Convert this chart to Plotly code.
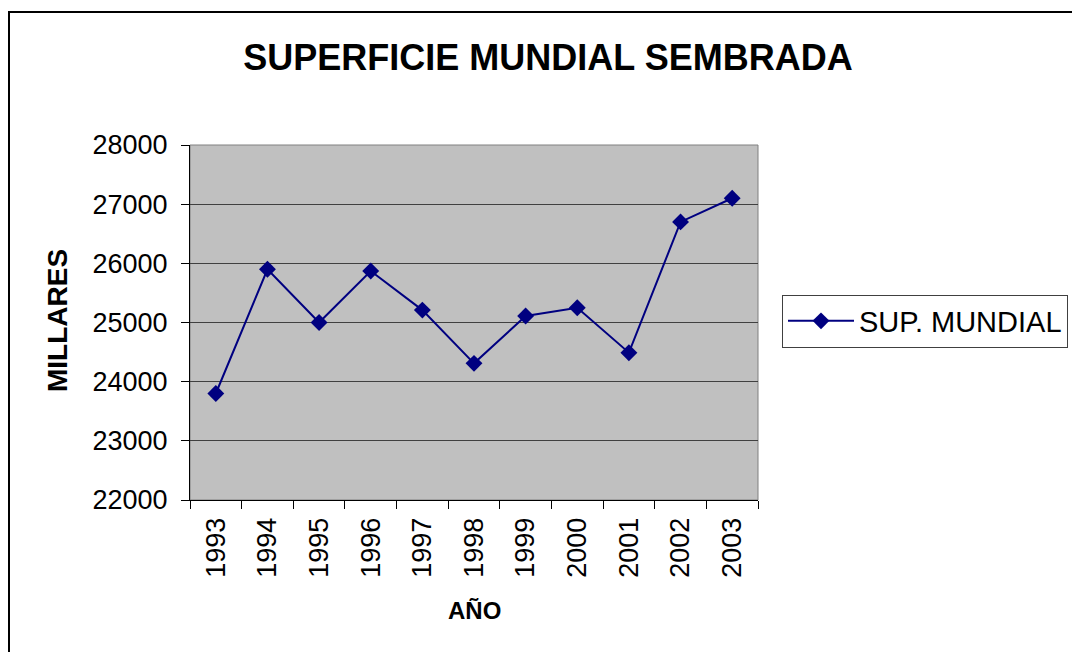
import plotly.graph_objects as go

years = ["1993", "1994", "1995", "1996", "1997", "1998", "1999", "2000", "2001", "2002", "2003"]
sup_mundial = [23800, 25900, 25000, 25870, 25210, 24310, 25110, 25250, 24490, 26700, 27100]
y_ticks = [22000, 23000, 24000, 25000, 26000, 27000, 28000]

W, H = 1072, 652
L, R, T, B = 190, 758, 145, 500
FONT = "Arial, Liberation Sans, sans-serif"

def px(x):
    return (x - L) / (R - L)

def py(y):
    return (B - y) / (B - T)

fig = go.Figure()
fig.add_trace(go.Scatter(
    x=years, y=sup_mundial, mode="lines+markers", name="SUP. MUNDIAL",
    line=dict(color="#000080", width=2),
    marker=dict(symbol="diamond", size=13, color="#000080"),
))

fig.update_layout(
    width=W, height=H,
    margin=dict(l=L, r=W - R, t=T, b=H - B, autoexpand=False),
    paper_bgcolor="white", plot_bgcolor="#C0C0C0",
    font=dict(family=FONT, color="black", size=27),
    title=dict(text="<b>SUPERFICIE MUNDIAL SEMBRADA</b>", x=548 / W, xanchor="center",
               y=1 - 57 / H, yanchor="middle", font=dict(size=36, family=FONT)),
    showlegend=True,
    legend=dict(x=px(782), xanchor="left", y=py(321), yanchor="middle",
                bordercolor="#404040", borderwidth=1, bgcolor="white",
                itemwidth=66,
                font=dict(size=29, family=FONT)),
    xaxis=dict(type="category", range=[-0.5, len(years) - 0.5],
               tickson="boundaries", ticks="outside", ticklen=8,
               tickcolor="black", showline=True, linecolor="black", linewidth=1,
               showgrid=False, tickangle=-90, tickfont=dict(size=27),
               ticklabelstandoff=6),
    yaxis=dict(range=[22000, 28000], tickvals=y_ticks, tickformat="d",
               ticks="outside", ticklen=8,
               tickcolor="black", showline=True, linecolor="black", linewidth=1,
               showgrid=True, gridcolor="#404040", gridwidth=1, zeroline=False,
               tickfont=dict(size=27), ticklabelstandoff=8),
    shapes=[
        dict(type="rect", xref="paper", yref="paper", x0=0, x1=1, y0=0, y1=1,
             line=dict(color="#808080", width=1), layer="below"),
        dict(type="rect", xref="paper", yref="paper", x0=px(9), x1=px(1080),
             y0=py(660), y1=py(12), line=dict(color="black", width=2)),
    ],
    annotations=[
        dict(text="<b>MILLARES</b>", xref="paper", yref="paper", x=px(57), y=py(321),
             textangle=-90, showarrow=False, font=dict(size=28, family=FONT),
             xanchor="center", yanchor="middle"),
        dict(text="<b>AÑO</b>", xref="paper", yref="paper", x=px(474), y=py(610),
             showarrow=False, font=dict(size=24, family=FONT),
             xanchor="center", yanchor="middle"),
    ],
)

fig.write_html("out.html", config={"displayModeBar": False},
               post_script="document.body.style.margin='0';")
